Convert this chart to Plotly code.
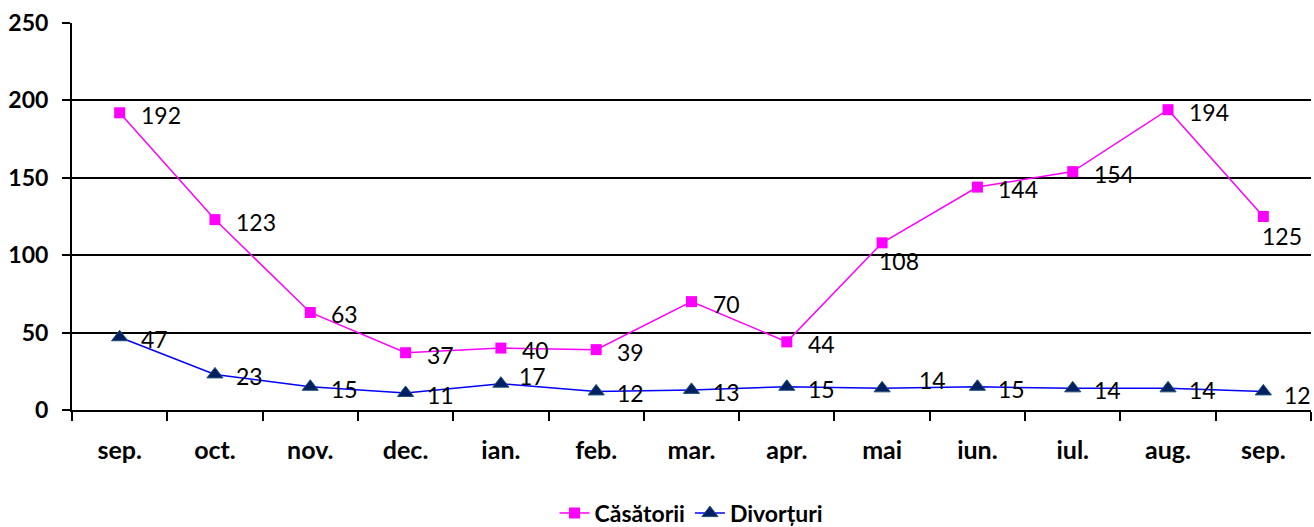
import plotly.graph_objects as go

months = ["sep.", "oct.", "nov.", "dec.", "ian.", "feb.", "mar.", "apr.", "mai", "iun.", "iul.", "aug.", "sep."]
casatorii = [192, 123, 63, 37, 40, 39, 70, 44, 108, 144, 154, 194, 125]
divorturi = [47, 23, 15, 11, 17, 12, 13, 15, 14, 15, 14, 14, 12]
y_ticks = [0, 50, 100, 150, 200, 250]

x = list(range(len(months)))
FONT = "Lato"

# label offsets (pixels) – style only
shift_c = [(19, -2)] * len(months)
shift_c[8] = (-5, -18)
shift_c[12] = (-3, -19)
shift_d = [(19, -2)] * len(months)
shift_d[4] = (16, 8)
shift_d[8] = (35, 8)
shift_d[12] = (19, -4)

fig = go.Figure()
fig.add_trace(go.Scatter(
    x=x, y=casatorii, name="Căsătorii", mode="lines+markers",
    line=dict(color="#FF00FF", width=1.5),
    marker=dict(symbol="square", size=11, color="#FF00FF"),
))
fig.add_trace(go.Scatter(
    x=x, y=divorturi, name="Divorțuri", mode="lines+markers",
    line=dict(color="#0000FF", width=1.5),
    marker=dict(symbol="triangle-up", size=14, color="#002060",
                line=dict(color="#1F4E79", width=1)),
))

annotations = []
for series, shifts in ((casatorii, shift_c), (divorturi, shift_d)):
    for i, v in enumerate(series):
        annotations.append(dict(
            x=x[i], y=v, xref="x", yref="y", text=str(v), showarrow=False,
            xanchor="left", yanchor="middle", xshift=shifts[i][0], yshift=shifts[i][1],
            font=dict(family=FONT, size=23, color="black"),
        ))

fig.update_layout(
    width=1314, height=527,
    margin=dict(l=72, r=3, t=23, b=117, autoexpand=False),
    paper_bgcolor="white", plot_bgcolor="white",
    font=dict(family=FONT, color="black"),
    showlegend=True,
    annotations=annotations,
    legend=dict(orientation="h", x=0.5, xanchor="center", y=-0.211, yanchor="top",
                font=dict(family=FONT, size=23, color="black", weight="bold"),
                tracegroupgap=0),
)
fig.update_xaxes(
    range=[-0.5, 12.5], tickmode="array", tickvals=x, ticktext=months,
    ticks="", showgrid=False, zeroline=False, automargin=False,
    showline=True, linecolor="black", linewidth=2,
    tickfont=dict(family=FONT, size=25, color="black", weight="bold"),
    ticklabelstandoff=17,
    minor=dict(ticks="outside", tick0=-0.5, dtick=1, ticklen=9, tickcolor="black", tickwidth=2, showgrid=False),
)
fig.update_yaxes(
    range=[0, 250], tickmode="array", tickvals=y_ticks,
    ticks="outside", ticklen=8, tickcolor="black", tickwidth=2,
    showgrid=True, gridcolor="black", gridwidth=1.5, zeroline=False, automargin=False,
    showline=True, linecolor="black", linewidth=2,
    tickfont=dict(family=FONT, size=23, color="black", weight="bold"),
    ticklabelstandoff=9,
)
# remove the default 8px page margin so the figure fills the window exactly
fig.write_html("out.html", config={"displayModeBar": False},
               post_script="document.body.style.margin='0';document.body.style.overflow='hidden';")
